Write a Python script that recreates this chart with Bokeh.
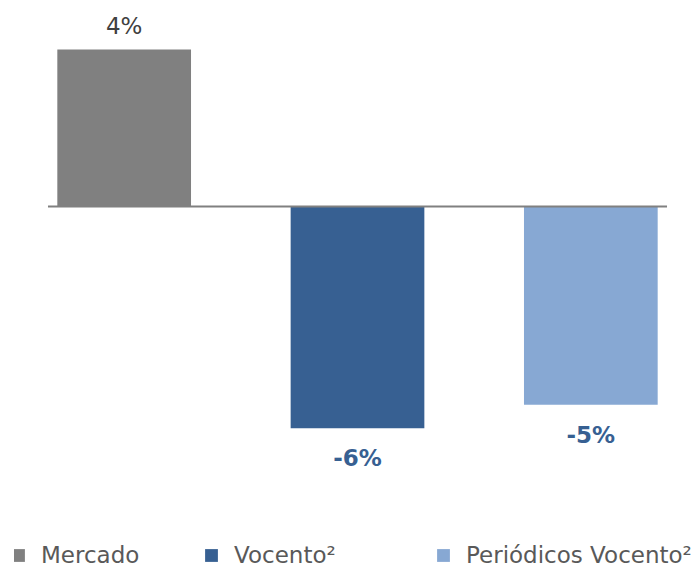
from bokeh.plotting import figure
from bokeh.models import (ColumnDataSource, FactorRange, Range1d, Legend,
                          LegendItem, LabelSet)
from bokeh.core.properties import value
from bokeh.embed import file_html
from bokeh.resources import INLINE

# ---- data ----
categories = ["Mercado", "Vocento²", "Periódicos Vocento²"]
values = [4.0, -5.65, -5.05]
bar_colors = ["#808080", "#376092", "#87A8D3"]
label_colors = ["#404040", "#376092", "#376092"]
label_styles = ["normal", "bold", "bold"]

labels = [f"{v:.0f}%" for v in values]
offsets = [15 if v > 0 else -38 for v in values]

src = ColumnDataSource(dict(cat=categories, val=values, color=bar_colors,
                            label=labels, lcolor=label_colors,
                            lstyle=label_styles, off=offsets))

FONT = "DejaVu Sans"
BAR_W = 0.573

p = figure(width=700, height=571, output_backend="svg", toolbar_location=None,
           x_range=FactorRange(factors=categories, range_padding=-0.03,
                               range_padding_units="absolute"),
           y_range=Range1d(-9.299, 5.248),
           x_axis_location=None, y_axis_location=None,
           min_border_left=14, min_border_right=0,
           min_border_top=0, min_border_bottom=0)
p.outline_line_color = None
p.xgrid.visible = False
p.ygrid.visible = False
p.background_fill_color = "white"
p.border_fill_color = "white"

r = p.vbar(x="cat", top="val", width=BAR_W, fill_color="color",
           line_color=None, source=src)

# zero line, spanning from first to last bar with a small overhang
p.segment(x0=[(categories[0], -BAR_W / 2 - 0.04)], y0=[0],
          x1=[(categories[-1], BAR_W / 2 + 0.04)], y1=[0],
          line_color="#808080", line_width=2)

lbl = LabelSet(x="cat", y="val", text="label", source=src,
               text_color="lcolor", text_font_style="lstyle",
               y_offset="off", text_align="center",
               text_baseline="alphabetic", text_font=value(FONT),
               text_font_size="23px")
p.add_layout(lbl)

legend_x = [-4, 189, 421]
for i, cat in enumerate(categories):
    lg = Legend(items=[LegendItem(label=cat, renderers=[r], index=i)],
                location=(legend_x[i], 3), orientation="horizontal",
                padding=0, margin=0, glyph_width=16, glyph_height=16,
                label_standoff=15, border_line_color=None,
                background_fill_alpha=0, label_text_font=FONT,
                label_text_font_size="23px", label_text_color="#595959")
    p.add_layout(lg, "center")

open("out.html", "w").write(file_html(p, INLINE))
